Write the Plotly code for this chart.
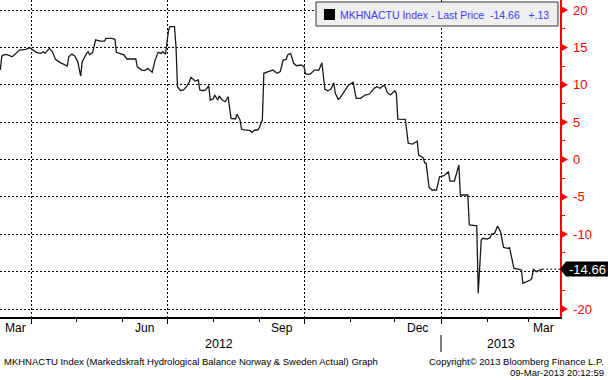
import plotly.graph_objects as go

# ---------------- data ----------------
dates = [
    "2012-03-11", "2012-03-12", "2012-03-14", "2012-03-16", "2012-03-19", "2012-03-22", "2012-03-24", "2012-03-28", "2012-03-31",
    "2012-04-02", "2012-04-04", "2012-04-07", "2012-04-09", "2012-04-10", "2012-04-13", "2012-04-15", "2012-04-17", "2012-04-20",
    "2012-04-23", "2012-04-25", "2012-04-26", "2012-04-28", "2012-04-30",
    "2012-05-02", "2012-05-04", "2012-05-05", "2012-05-08", "2012-05-09", "2012-05-10", "2012-05-12", "2012-05-14", "2012-05-17",
    "2012-05-20", "2012-05-21", "2012-05-25", "2012-05-27", "2012-05-28", "2012-05-30",
    "2012-06-02", "2012-06-04", "2012-06-07", "2012-06-10", "2012-06-11", "2012-06-14", "2012-06-16", "2012-06-18", "2012-06-21",
    "2012-06-23", "2012-06-25", "2012-06-27", "2012-06-28", "2012-06-30",
    "2012-07-01", "2012-07-02", "2012-07-03", "2012-07-06", "2012-07-07", "2012-07-08", "2012-07-10", "2012-07-12", "2012-07-14",
    "2012-07-16", "2012-07-17", "2012-07-19", "2012-07-20", "2012-07-22", "2012-07-23", "2012-07-25", "2012-07-27", "2012-07-29",
    "2012-07-30",
    "2012-08-01", "2012-08-02", "2012-08-04", "2012-08-05", "2012-08-07", "2012-08-09", "2012-08-11", "2012-08-12", "2012-08-13",
    "2012-08-16", "2012-08-17", "2012-08-19", "2012-08-20", "2012-08-22", "2012-08-26", "2012-08-27", "2012-08-29", "2012-08-31",
    "2012-09-01", "2012-09-03", "2012-09-04", "2012-09-07", "2012-09-10", "2012-09-13", "2012-09-15", "2012-09-17", "2012-09-19",
    "2012-09-20", "2012-09-22", "2012-09-24", "2012-09-26", "2012-09-29",
    "2012-10-01", "2012-10-02", "2012-10-05", "2012-10-08", "2012-10-11", "2012-10-13", "2012-10-14", "2012-10-15", "2012-10-17",
    "2012-10-19", "2012-10-21", "2012-10-22", "2012-10-24", "2012-10-25", "2012-10-29", "2012-10-31",
    "2012-11-03", "2012-11-05", "2012-11-08", "2012-11-11", "2012-11-14", "2012-11-17", "2012-11-19", "2012-11-21", "2012-11-24",
    "2012-11-26", "2012-11-28",
    "2012-12-01", "2012-12-02", "2012-12-03", "2012-12-08", "2012-12-10", "2012-12-13", "2012-12-16", "2012-12-17", "2012-12-20",
    "2012-12-21", "2012-12-22", "2012-12-24", "2012-12-26", "2012-12-29", "2012-12-31",
    "2013-01-03", "2013-01-05", "2013-01-06", "2013-01-07", "2013-01-10", "2013-01-13", "2013-01-14", "2013-01-19", "2013-01-20",
    "2013-01-25", "2013-01-26", "2013-01-28", "2013-01-29",
    "2013-02-01", "2013-02-03", "2013-02-04", "2013-02-06", "2013-02-08", "2013-02-10", "2013-02-12", "2013-02-15", "2013-02-16",
    "2013-02-19", "2013-02-22", "2013-02-24", "2013-02-25", "2013-02-28",
    "2013-03-02", "2013-03-03", "2013-03-04", "2013-03-06", "2013-03-07", "2013-03-10",
]
values = [
    11.97, 13.85, 14.07, 14.0, 13.75, 14.3, 14.65, 14.74, 14.96,
    14.65, 14.34, 14.2, 14.42, 14.2, 14.87, 14.42, 13.4, 13.0, 12.64, 12.5, 13.75, 14.1, 13.85,
    13.1, 11.17, 13.1, 14.2, 14.42, 14.0, 14.3, 16.0, 15.85, 15.85, 16.2, 16.2, 16.08, 14.34, 14.2,
    14.0, 13.45, 13.4, 13.45, 12.4, 11.97, 11.9, 12.2, 11.66, 13.3, 14.34, 14.2, 14.42, 14.1,
    15.76, 17.3, 17.77, 17.77, 15.1, 9.74, 9.2, 9.3, 9.74, 10.4, 11.0, 10.73, 10.5, 10.64, 9.3, 9.2, 9.3, 9.87, 7.96,
    8.1, 8.63, 7.96, 8.5, 7.96, 7.73, 8.4, 7.06, 5.5, 5.42, 6.05, 5.28, 4.08, 3.95, 3.85, 3.63, 3.95, 3.95,
    4.3, 5.28, 11.53, 11.75, 11.97, 11.53, 11.75, 13.3, 13.4, 13.98, 14.2, 12.87, 12.55, 12.64,
    12.41, 11.44, 11.4, 11.97, 11.97, 12.95, 11.53, 9.39, 9.2, 9.39, 10.27, 8.86, 8.05, 8.19, 9.39, 9.97,
    10.33, 8.19, 8.19, 8.63, 8.76, 9.52, 9.74, 9.52, 9.97, 8.94, 8.63,
    9.2, 8.86, 5.4, 5.38, 2.17, 2.07, 2.47, 0.6, 0.24, -0.43, -0.51, -3.72, -4.08, -4.08, -2.3,
    -2.17, -1.71, -1.63, -2.88, -2.88, -0.74, -4.75, -4.75, -8.76, -8.86, -17.9, -10.77, -10.54,
    -10.64, -10.46, -9.97, -9.88, -8.9, -9.66, -11.75, -11.88, -11.8, -14.56, -14.65, -14.78, -16.56, -16.34,
    -16.12, -15.9, -14.7, -15.0, -14.92, -14.66,
]

series_label = "MKHNACTU Index - Last Price"
last_change = "+.13"
y_ticks = [-20, -15, -10, -5, 0, 5, 10, 15, 20]
quarter_ticks = ["2012-04-01", "2012-07-01", "2012-10-01", "2013-01-01"]
month_ticks = ["2012-05-01", "2012-06-01", "2012-08-01", "2012-09-01",
               "2012-11-01", "2012-12-01", "2013-02-01", "2013-03-01"]
month_labels = ["Mar", "Jun", "Sep", "Dec", "Mar"]
month_label_pos = ["2012-03-21", "2012-06-16", "2012-09-16", "2012-12-16", "2013-03-11"]
year_labels = ["2012", "2013"]
year_label_pos = ["2012-08-05", "2013-02-10"]
year_break = "2013-01-01"
x_range = ["2012-03-10 19:00", "2013-03-21 22:00"]
y_range = [-21.07, 21.34]
footer_left = "MKHNACTU Index (Markedskraft Hydrological Balance Norway & Sweden Actual) Graph"
footer_right = ["Copyright\u00a9 2013 Bloomberg Finance L.P.", "09-Mar-2013 20:12:59"]

# ---------------- layout constants ----------------
W, H = 608, 380
ML, MR, MT, MB = 0, 48, 0, 63
PW = W - ML - MR          # plot width in px
PH = H - MT - MB          # plot height in px
FONT = "Liberation Sans"
RED = "#ff0000"


def px_x(p):   # pixel (from plot left) -> paper x
    return p / PW


def px_y(p):   # pixel (from top of figure) -> paper y
    return (PH - (p - MT)) / PH


units_per_px = (y_range[1] - y_range[0]) / PH
last_v = values[-1]
bh = 7.5 * units_per_px

fig = go.Figure()
fig.add_trace(go.Scatter(
    x=dates, y=values, mode="lines",
    line=dict(color="#1a1a1a", width=1.3),
    hoverinfo="skip", showlegend=False,
))

shapes = []
annotations = []

# tick labels hidden behind the last-price box (as in the original)
covered = [abs(v - last_v) < 2 * bh for v in y_ticks]
tick_text = ["" if c else str(v) for v, c in zip(y_ticks, covered)]

# red arrow markers on right axis at major ticks
ah = 4.5 * units_per_px
for v, c in zip(y_ticks, covered):
    if c:
        continue
    shapes.append(dict(
        type="path", xref="paper", yref="y",
        path=f"M 1,{v + ah} L 1,{v - ah} L {1 + px_x(8)},{v} Z",
        fillcolor=RED, line=dict(width=0),
    ))

# last price label
shapes.append(dict(
    type="path", xref="paper", yref="y",
    path=(f"M 1,{last_v} L {1 + px_x(6)},{last_v + bh} L {1 + px_x(48)},{last_v + bh} "
          f"L {1 + px_x(48)},{last_v - bh} L {1 + px_x(6)},{last_v - bh} Z"),
    fillcolor="black", line=dict(width=0),
))
annotations.append(dict(
    xref="paper", yref="y", x=1 + px_x(27), y=last_v, xanchor="center", yanchor="middle",
    text=f"{last_v:.2f}", showarrow=False, font=dict(family=FONT, size=13, color="white"),
))
# dotted line from last point to axis
shapes.append(dict(
    type="line", xref="x", yref="y", x0=dates[-1], x1=x_range[1], y0=last_v, y1=last_v,
    line=dict(color="black", width=1, dash="2px,2px"),
))

# legend box
shapes.append(dict(
    type="rect", xref="paper", yref="paper",
    x0=px_x(316), x1=px_x(558), y0=px_y(26), y1=px_y(2),
    fillcolor="#efefef", line=dict(color="#333333", width=1),
))
shapes.append(dict(
    type="rect", xref="paper", yref="paper",
    x0=px_x(324), x1=px_x(335), y0=px_y(20), y1=px_y(9),
    fillcolor="black", line=dict(width=0),
))
annotations.append(dict(
    xref="paper", yref="paper", x=px_x(338), y=px_y(14.5), xanchor="left", yanchor="middle",
    text=f"{series_label}\u00a0\u00a0{last_v:.2f}\u00a0\u00a0\u00a0{last_change}",
    showarrow=False, font=dict(family=FONT, size=10.5, color="#3b3bf0"),
))

# month labels
for lab, pos in zip(month_labels, month_label_pos):
    annotations.append(dict(
        xref="x", yref="paper", x=pos, y=px_y(328), xanchor="center", yanchor="middle",
        text=lab, showarrow=False, font=dict(family=FONT, size=12, color="black"),
    ))
# year labels
for lab, pos in zip(year_labels, year_label_pos):
    annotations.append(dict(
        xref="x", yref="paper", x=pos, y=px_y(344), xanchor="center", yanchor="middle",
        text=lab, showarrow=False, font=dict(family=FONT, size=12.5, color="black"),
    ))
shapes.append(dict(
    type="line", xref="x", yref="paper", x0=year_break, x1=year_break,
    y0=px_y(335), y1=px_y(352), line=dict(color="black", width=1),
))

# footers
annotations.append(dict(
    xref="paper", yref="paper", x=px_x(2), y=px_y(361), xanchor="left", yanchor="middle",
    text=footer_left, showarrow=False, font=dict(family=FONT, size=9.5, color="black"),
))
for i, t in enumerate(footer_right):
    annotations.append(dict(
        xref="paper", yref="paper", x=px_x(606), y=px_y(361 + 11 * i), xanchor="right", yanchor="middle",
        text=t, showarrow=False, font=dict(family=FONT, size=9.5, color="black"),
    ))

fig.update_layout(
    width=W, height=H,
    margin=dict(l=ML, r=MR, t=MT, b=MB, pad=0, autoexpand=False),
    paper_bgcolor="white", plot_bgcolor="white",
    font=dict(family=FONT),
    shapes=shapes, annotations=annotations,
    showlegend=False,
    xaxis=dict(
        type="date", range=x_range, automargin=False,
        tickvals=quarter_ticks, showticklabels=False,
        ticks="outside", ticklen=5, tickcolor="black", tickwidth=1,
        showgrid=True, gridcolor="black", gridwidth=1, griddash="2px,2px",
        showline=True, linecolor="black", linewidth=1.5,
        zeroline=False,
        minor=dict(tickvals=month_ticks, ticks="outside", ticklen=3, tickcolor="black", showgrid=False),
    ),
    yaxis=dict(
        side="right", range=y_range, automargin=False,
        tickvals=y_ticks, ticktext=tick_text,
        tickfont=dict(family=FONT, size=13, color=RED),
        ticks="", ticklabelstandoff=9,
        showgrid=True, gridcolor="black", gridwidth=1, griddash="2px,2px",
        showline=True, linecolor=RED, linewidth=1.5,
        zeroline=False,
        minor=dict(dtick=2.5, tick0=0, ticks="outside", ticklen=3, tickcolor=RED, showgrid=False),
    ),
)

fig.write_html(
    "out.html",
    config={"displayModeBar": False, "staticPlot": True},
    post_script="document.body.style.margin='0px';document.body.style.overflow='hidden';",
)
